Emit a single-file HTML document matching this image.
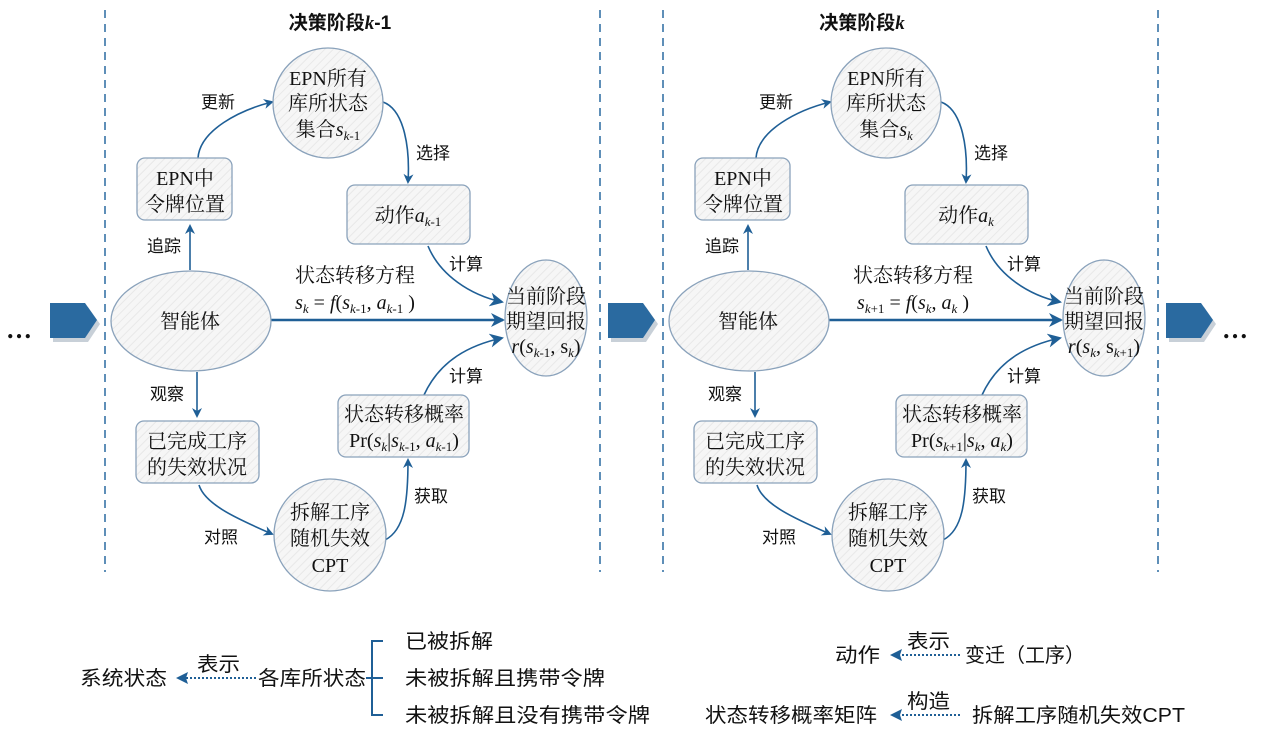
<!DOCTYPE html>
<html><head><meta charset="utf-8"><style>
html,body{margin:0;padding:0;background:#fff}
svg text{font-family:"Liberation Serif","Noto Serif CJK SC","Noto Sans CJK SC",serif;fill:#111}
.s{font-family:"Liberation Sans","Noto Sans CJK SC",sans-serif !important}
.n{font-size:20px}
.l{font-size:17px}
.g{font-size:20px}
</style></head><body>
<svg width="1269" height="733" viewBox="0 0 1269 733" xmlns="http://www.w3.org/2000/svg">
<defs>
<marker id="ah" markerWidth="10" markerHeight="10" refX="8" refY="5" orient="auto" markerUnits="userSpaceOnUse"><path d="M0,0 L10,5 L0,10 L3,5 z" fill="#1f5f96"/></marker>
<marker id="ah2" markerWidth="14" markerHeight="14" refX="12" refY="7" orient="auto" markerUnits="userSpaceOnUse"><path d="M0,0 L14,7 L0,14 L4,7 z" fill="#1f5f96"/></marker>
<pattern id="hat" width="6" height="6" patternUnits="userSpaceOnUse" patternTransform="rotate(45)"><rect width="6" height="6" fill="#f6f6f6"/><line x1="0" y1="0" x2="0" y2="6" stroke="#e8e8e8" stroke-width="2"/></pattern>
<g id="bigarrow"><path d="M3,4 L38,4 L50,21 L38,39 L3,39 Z" fill="#c8d0d8"/><path d="M0,0 L35,0 L47,17 L35,35 L0,35 Z" fill="#2a6aa0"/></g>
</defs>

<text x="6" y="338" style="font-size:26px;font-weight:bold">…</text>
<use href="#bigarrow" x="50" y="303"/>
<use href="#bigarrow" x="608" y="303"/>
<use href="#bigarrow" x="1166" y="303"/>
<text x="1222" y="338" style="font-size:26px;font-weight:bold">…</text>

<g id="panel">
<line x1="105" y1="10" x2="105" y2="572" stroke="#2a6aa0" stroke-width="1.5" stroke-dasharray="8,6"/>
<line x1="600" y1="10" x2="600" y2="572" stroke="#2a6aa0" stroke-width="1.5" stroke-dasharray="8,6"/>
<g fill="none" stroke="#1f5f96" stroke-width="1.6">
<path d="M190,270 L190,226" marker-end="url(#ah)"/>
<path d="M198,158 C200,130 240,110 272,102" marker-end="url(#ah)"/>
<path d="M383,102 C405,110 410,150 408,182" marker-end="url(#ah)"/>
<path d="M428,246 C440,275 470,295 502,302" marker-end="url(#ah2)"/>
<path d="M271,320 L503,320" stroke-width="2.4" marker-end="url(#ah2)"/>
<path d="M197,372 L197,416" marker-end="url(#ah)"/>
<path d="M199,485 C205,505 240,520 272,534" marker-end="url(#ah)"/>
<path d="M385,540 C405,530 408,500 408,460" marker-end="url(#ah)"/>
<path d="M424,395 C440,360 470,345 502,338" marker-end="url(#ah2)"/>
</g>
<g fill="url(#hat)" stroke="#8aa2bb" stroke-width="1.3">
<circle cx="328" cy="103" r="55"/>
<rect x="137" y="158" width="95" height="62" rx="8"/>
<rect x="347" y="185" width="123" height="59" rx="8"/>
<ellipse cx="191" cy="321" rx="80" ry="50"/>
<ellipse cx="546" cy="318" rx="41" ry="58"/>
<rect x="136" y="421" width="123" height="62" rx="8"/>
<rect x="338" y="395" width="131" height="62" rx="8"/>
<circle cx="330" cy="535" r="56"/>
</g>
</g>
<use href="#panel" x="558"/>

<text x="340" y="29" class="s" style="font-size:19px;font-weight:bold" text-anchor="middle">决策阶段<tspan font-style="italic" font-family="Liberation Serif">k</tspan>-1</text>
<g class="n" text-anchor="middle">
<text x="328" y="85">EPN所有</text><text x="328" y="110">库所状态</text>
<text x="328" y="136">集合<tspan font-style="italic">s</tspan><tspan font-style="italic" font-size="13" dy="4">k</tspan><tspan font-size="13">-1</tspan></text>
<text x="185" y="185">EPN中</text><text x="185" y="211">令牌位置</text>
<text x="408" y="222">动作<tspan font-style="italic">a</tspan><tspan font-style="italic" font-size="13" dy="4">k</tspan><tspan font-size="13">-1</tspan></text>
<text x="190" y="328">智能体</text>
<text x="546" y="303">当前阶段</text><text x="546" y="328">期望回报</text>
<text x="546" y="353"><tspan font-style="italic">r</tspan>(<tspan font-style="italic">s</tspan><tspan font-size="13" dy="4"><tspan font-style="italic">k</tspan>-1</tspan><tspan dy="-4">, s</tspan><tspan font-size="13" dy="4" font-style="italic">k</tspan><tspan dy="-4">)</tspan></text>
<text x="197" y="448">已完成工序</text><text x="197" y="474">的失效状况</text>
<text x="404" y="421">状态转移概率</text>
<text x="404" y="447">Pr(<tspan font-style="italic">s</tspan><tspan font-size="13" dy="4" font-style="italic">k</tspan><tspan dy="-4">|</tspan><tspan font-style="italic">s</tspan><tspan font-size="13" dy="4"><tspan font-style="italic">k</tspan>-1</tspan><tspan dy="-4">, </tspan><tspan font-style="italic">a</tspan><tspan font-size="13" dy="4"><tspan font-style="italic">k</tspan>-1</tspan><tspan dy="-4">)</tspan></text>
<text x="330" y="519">拆解工序</text><text x="330" y="545">随机失效</text><text x="330" y="572">CPT</text>
<text x="355" y="282">状态转移方程</text>
<text x="355" y="309"><tspan font-style="italic">s</tspan><tspan font-size="13" dy="4" font-style="italic">k</tspan><tspan dy="-4"> = </tspan><tspan font-style="italic">f</tspan>(<tspan font-style="italic">s</tspan><tspan font-size="13" dy="4"><tspan font-style="italic">k</tspan>-1</tspan><tspan dy="-4">, </tspan><tspan font-style="italic">a</tspan><tspan font-size="13" dy="4"><tspan font-style="italic">k</tspan>-1</tspan><tspan dy="-4"> )</tspan></text>
</g>
<g text-anchor="middle">
<text class="s l" x="218" y="108">更新</text>
<text class="s l" x="433" y="159">选择</text>
<text class="s l" x="164" y="252">追踪</text>
<text class="s l" x="466" y="270">计算</text>
<text class="s l" x="167" y="400">观察</text>
<text class="s l" x="466" y="382">计算</text>
<text class="s l" x="431" y="502">获取</text>
<text class="s l" x="221" y="543">对照</text>
</g>

<text x="862" y="29" class="s" style="font-size:19px;font-weight:bold" text-anchor="middle">决策阶段<tspan font-style="italic" font-family="Liberation Serif">k</tspan></text>
<g class="n" text-anchor="middle">
<text x="886" y="85">EPN所有</text><text x="886" y="110">库所状态</text>
<text x="886" y="136">集合<tspan font-style="italic">s</tspan><tspan font-style="italic" font-size="13" dy="4">k</tspan></text>
<text x="743" y="185">EPN中</text><text x="743" y="211">令牌位置</text>
<text x="966" y="222">动作<tspan font-style="italic">a</tspan><tspan font-style="italic" font-size="13" dy="4">k</tspan></text>
<text x="748" y="328">智能体</text>
<text x="1104" y="303">当前阶段</text><text x="1104" y="328">期望回报</text>
<text x="1104" y="353"><tspan font-style="italic">r</tspan>(<tspan font-style="italic">s</tspan><tspan font-size="13" dy="4" font-style="italic">k</tspan><tspan dy="-4">, s</tspan><tspan font-size="13" dy="4"><tspan font-style="italic">k</tspan>+1</tspan><tspan dy="-4">)</tspan></text>
<text x="755" y="448">已完成工序</text><text x="755" y="474">的失效状况</text>
<text x="962" y="421">状态转移概率</text>
<text x="962" y="447">Pr(<tspan font-style="italic">s</tspan><tspan font-size="13" dy="4"><tspan font-style="italic">k</tspan>+1</tspan><tspan dy="-4">|</tspan><tspan font-style="italic">s</tspan><tspan font-size="13" dy="4" font-style="italic">k</tspan><tspan dy="-4">, </tspan><tspan font-style="italic">a</tspan><tspan font-size="13" dy="4" font-style="italic">k</tspan><tspan dy="-4">)</tspan></text>
<text x="888" y="519">拆解工序</text><text x="888" y="545">随机失效</text><text x="888" y="572">CPT</text>
<text x="913" y="282">状态转移方程</text>
<text x="913" y="309"><tspan font-style="italic">s</tspan><tspan font-size="13" dy="4"><tspan font-style="italic">k</tspan>+1</tspan><tspan dy="-4"> = </tspan><tspan font-style="italic">f</tspan>(<tspan font-style="italic">s</tspan><tspan font-size="13" dy="4" font-style="italic">k</tspan><tspan dy="-4">, </tspan><tspan font-style="italic">a</tspan><tspan font-size="13" dy="4" font-style="italic">k</tspan><tspan dy="-4"> )</tspan></text>
</g>
<g text-anchor="middle">
<text class="s l" x="776" y="108">更新</text>
<text class="s l" x="991" y="159">选择</text>
<text class="s l" x="722" y="252">追踪</text>
<text class="s l" x="1024" y="270">计算</text>
<text class="s l" x="725" y="400">观察</text>
<text class="s l" x="1024" y="382">计算</text>
<text class="s l" x="989" y="502">获取</text>
<text class="s l" x="779" y="543">对照</text>
</g>

<g>
<text class="s g" x="80" y="685" textLength="87" lengthAdjust="spacingAndGlyphs">系统状态</text>
<text class="s g" x="197" y="671" textLength="43" lengthAdjust="spacingAndGlyphs">表示</text>
<text class="s g" x="258" y="685" textLength="108" lengthAdjust="spacingAndGlyphs">各库所状态</text>
<text class="s g" x="405" y="648" textLength="88" lengthAdjust="spacingAndGlyphs">已被拆解</text>
<text class="s g" x="405" y="685" textLength="200" lengthAdjust="spacingAndGlyphs">未被拆解且携带令牌</text>
<text class="s g" x="405" y="722" textLength="245" lengthAdjust="spacingAndGlyphs">未被拆解且没有携带令牌</text>
<text class="s g" x="835" y="662" textLength="45" lengthAdjust="spacingAndGlyphs">动作</text>
<text class="s g" x="907" y="648" textLength="43" lengthAdjust="spacingAndGlyphs">表示</text>
<text class="s g" x="965" y="662" textLength="120" lengthAdjust="spacingAndGlyphs">变迁（工序）</text>
<text class="s g" x="705" y="722" textLength="172" lengthAdjust="spacingAndGlyphs">状态转移概率矩阵</text>
<text class="s g" x="907" y="708" textLength="43" lengthAdjust="spacingAndGlyphs">构造</text>
<text class="s g" x="972" y="722" textLength="213" lengthAdjust="spacingAndGlyphs">拆解工序随机失效CPT</text>
</g>
<g fill="none" stroke="#1f5f96" stroke-width="2">
<path d="M256,678 L184,678" stroke-dasharray="2,2"/>
<path d="M960,655 L898,655" stroke-dasharray="2,2"/>
<path d="M960,715 L898,715" stroke-dasharray="2,2"/>
<path d="M383,641 L372,641 L372,715 L383,715 M366,678 L383,678"/>
</g>
<g fill="#1f5f96">
<path d="M176,678 L188,672 L186,678 L188,684 Z"/>
<path d="M890,655 L902,649 L900,655 L902,661 Z"/>
<path d="M890,715 L902,709 L900,715 L902,721 Z"/>
</g>
</svg>
</body></html>
